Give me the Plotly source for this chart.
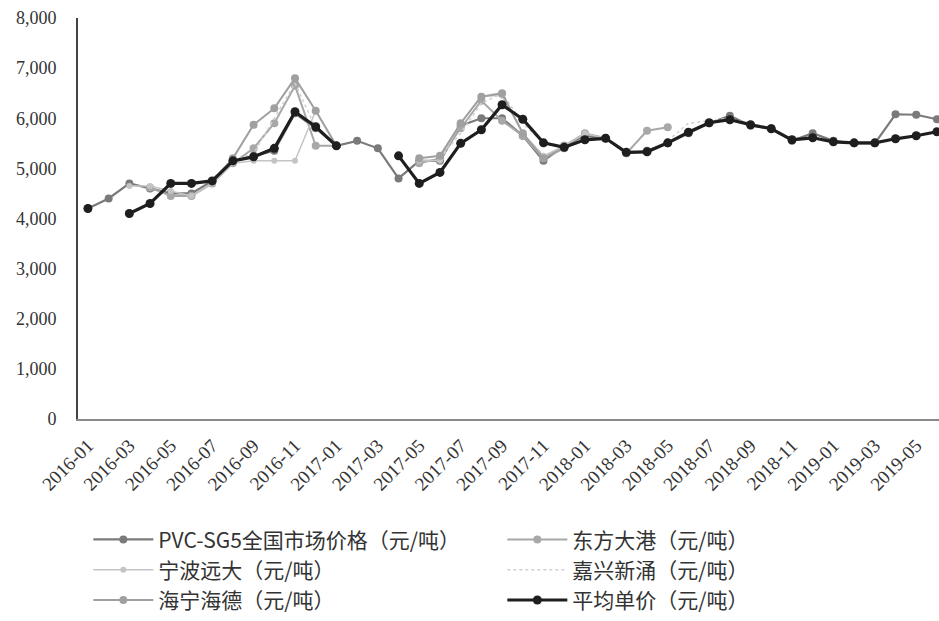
import plotly.graph_objects as go

months = [f"{y}-{m:02d}" for y in (2016, 2017, 2018, 2019) for m in range(1, 13)][:42]

N = None
pvc_national = [4200, 4400, 4700, 4600, 4500, 4500, 4750, 5150, 5250, 5350, 6100, 5800,
                5450, 5550, 5400, 4800, 5150, 5150, 5850, 6000, 6000, 5650, 5150, 5450,
                5650, 5600, 5300, 5350, 5500, 5700, 5900, 6050, 5850, 5800, 5550, 5700,
                5550, 5500, 5500, 6080, 6070, 5980]
dongfang = [N, N, N, 4620, 4450, 4450, 4700, 5100, 5400, 5900, 6650, 5450,
            5450, N, N, N, 5100, 5200, 5800, 6350, 5950, 5650, 5200, 5450,
            5700, 5600, 5300, 5750, 5820, N, N, N, N, N, N, N,
            N, N, N, N, N, N]
ningbo = [N, N, 4650, 4650, 4550, 4450, 4700, 5100, 5150, 5150, 5150, 6150,
          5450, N, N, N, 5150, 5150, 5900, 6450, 6450, 5700, 5250, 5450,
          5700, 5600, N, N, N, N, N, N, N, N, N, N,
          N, N, N, N, N, N]
jiaxing = [N, N, N, N, N, N, 4750, 5150, 5300, 6000, 6700, 5800,
           5450, N, N, N, N, 5200, 5700, 6300, 6500, 5900, 5500, 5450,
           N, N, N, N, 5550, 5900, 5950, 6000, 5900, 5800, N, N,
           N, N, N, N, N, N]
haining = [N, N, N, N, N, N, 4750, 5200, 5870, 6200, 6800, 6150,
           5450, N, N, N, 5200, 5250, 5900, 6430, 6500, 5700, 5200, 5400,
           N, N, N, N, N, N, N, N, N, N, N, N,
           N, N, N, N, N, N]
average = [4200, N, 4100, 4300, 4700, 4700, 4750, 5150, 5230, 5400, 6130, 5830,
           5450, N, N, 5250, 4700, 4920, 5500, 5770, 6270, 5980, 5510, 5420,
           5570, 5600, 5320, 5330, 5510, 5720, 5910, 5970, 5870, 5790, 5570, 5610,
           5530, 5510, 5510, 5590, 5650, 5730]

names = ["PVC-SG5全国市场价格（元/吨）", "东方大港（元/吨）", "宁波远大（元/吨）",
         "嘉兴新涌（元/吨）", "海宁海德（元/吨）", "平均单价（元/吨）"]
series = [pvc_national, dongfang, ningbo, jiaxing, haining, average]
styles = [
    dict(color="#7a7a7a", width=2.2, dash="solid", msize=8),
    dict(color="#a8a8a8", width=2, dash="solid", msize=8),
    dict(color="#c4c4c4", width=1.5, dash="solid", msize=6),
    dict(color="#d0d0d0", width=1.5, dash="dot", msize=0),
    dict(color="#a0a0a0", width=2, dash="solid", msize=8),
    dict(color="#1e1e1e", width=3.2, dash="solid", msize=9),
]

x = list(range(len(months)))
fig = go.Figure()
for name, vals, st in zip(names, series, styles):
    mode = "lines+markers" if st["msize"] > 0 else "lines"
    fig.add_trace(go.Scatter(
        x=x, y=vals, name=name, mode=mode,
        line=dict(color=st["color"], width=st["width"], dash=st["dash"]),
        marker=dict(size=st["msize"], color=st["color"]),
        connectgaps=False,
    ))

tick_idx = x[::2]
fig.update_layout(
    width=939, height=621,
    margin=dict(l=78, r=0, t=18, b=202, autoexpand=False),
    plot_bgcolor="white", paper_bgcolor="white",
    font=dict(family="Liberation Serif", size=17, color="#333"),
    xaxis=dict(
        range=[-0.48, 41.1], automargin=False,
        tickvals=tick_idx, ticktext=[months[i] for i in tick_idx],
        tickangle=-45, showgrid=False, zeroline=False,
        showline=True, linecolor="#8a8a8a", linewidth=2,
        ticks="", ticklabelstandoff=6,
        tickfont=dict(family="Liberation Serif", size=19, color="#333"),
    ),
    yaxis=dict(
        range=[0, 8000], automargin=False,
        tickvals=[0, 1000, 2000, 3000, 4000, 5000, 6000, 7000, 8000],
        tickformat=",", showgrid=False, zeroline=False,
        showline=True, linecolor="#444", linewidth=2, ticks="",
        ticklabelstandoff=16,
        tickfont=dict(family="Liberation Serif", size=18, color="#333"),
    ),
    legend=dict(
        orientation="h", x=0.012, y=-0.25, xanchor="left", yanchor="top",
        entrywidth=339, entrywidthmode="pixels",
        font=dict(family="Noto Sans CJK SC", size=21, color="#333"),
        itemwidth=60,
    ),
    showlegend=True,
)

fig.write_html("out.html")
